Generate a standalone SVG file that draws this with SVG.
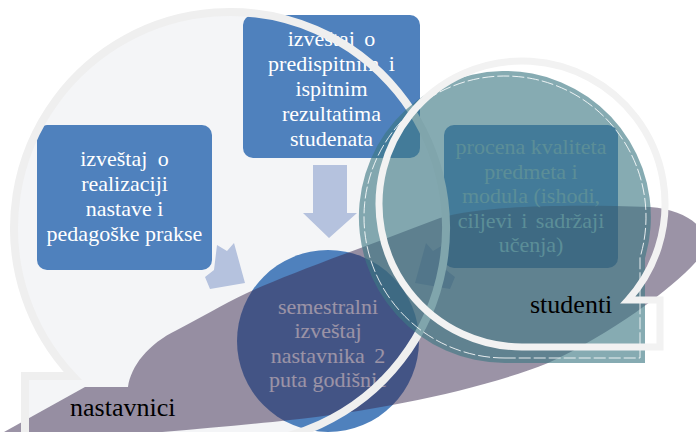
<svg xmlns="http://www.w3.org/2000/svg" width="696" height="432" viewBox="0 0 696 432">
<style>
.box{fill:#4f81bd}
.arr{fill:#b5c2de}
text{font-family:'Liberation Serif','DejaVu Serif','Times New Roman',serif}
.wt{font-size:22px;fill:#ffffff;text-anchor:middle}
.tt{font-size:22px;fill:#8fb3b9;text-anchor:middle}
.lbl{font-size:26px;fill:#000000}
.ring{fill:none;stroke:#efefef;stroke-width:8}
</style>
<rect x="0" y="0" width="696" height="432" fill="#ffffff"/>
<g id="nastavnici-bubble-fill">
<path d="M230,444 A216,216 0 1 0 72.7,376 L25,376 L25,444 Z" fill="#f4f5f7"/>
</g>
<g id="box-realizacija">
<rect class="box" x="37" y="125" width="175" height="145" rx="10"/>
<text class="wt" x="124.5" y="166" word-spacing="5">izveštaj o</text>
<text class="wt" x="124.5" y="191">realizaciji</text>
<text class="wt" x="124.5" y="216">nastave i</text>
<text class="wt" x="124.5" y="241">pedagoške prakse</text>
</g>
<g id="box-ispiti">
<rect class="box" x="243" y="15" width="177" height="143" rx="10"/>
<text class="wt" x="331.5" y="46" word-spacing="4">izveštaj o</text>
<text class="wt" x="331.5" y="71" word-spacing="4">predispitnim i</text>
<text class="wt" x="331.5" y="96">ispitnim</text>
<text class="wt" x="331.5" y="121">rezultatima</text>
<text class="wt" x="331.5" y="146">studenata</text>
</g>
<g id="box-procena">
<rect class="box" x="444" y="125" width="174" height="143" rx="10"/>
</g>
<g id="connectors">
<polygon class="arr" points="313,165 347,165 347,213 357,213 329,238 303,213 313,213"/>
<polygon class="arr" points="217,245 227,251 234,243 245,283 210,289 205,277 214,270"/>
<polygon class="arr" points="443,245 433,251 426,243 415,283 450,289 455,277 446,270"/>
</g>
<g id="circle-semestralni">
<circle cx="328" cy="341" r="91" fill="#4f81bd"/>
<text class="wt" x="328" y="313.5">semestralni</text>
<text class="wt" x="328" y="338">izveštaj</text>
<text class="wt" x="328" y="362.5" word-spacing="4">nastavnika 2</text>
<text class="wt" x="328" y="387">puta godišnje</text>
</g>
<g id="band-purple">
<path d="M-5,437 L85,387 L128,387 C131,366 148,344 177,330 C200,318 220,306 247,293 C290,273 370,245 440,218 C480,206 560,204 650,207 C690,210 712,232 705,250 C690,275 620,330 548,363 C480,390 380,410 290,420 C200,430 60,440 -5,445 Z" fill="#37274d" fill-opacity="0.5"/>
</g>
<g id="nastavnici-bubble-ring">
<path class="ring" d="M230,444 A216,216 0 1 0 72.7,376 L25,376 L25,444"/>
</g>
<g id="procena-text">
<text class="tt" x="531" y="154">procena kvaliteta</text>
<text class="tt" x="531" y="178.5">predmeta i</text>
<text class="tt" x="531" y="203">modula (ishodi,</text>
<text class="tt" x="531" y="227.5" word-spacing="3">ciljevi i sadržaji</text>
<text class="tt" x="531" y="252">učenja)</text>
</g>
<g id="teal-circle">
<path d="M505,363 A146,146 0 1 1 645,258 L645,363 Z" fill="#3c7882" fill-opacity="0.62"/>
<path d="M505,358 A141,141 0 1 1 640,257.7 L640,358 Z" fill="none" stroke="#ffffff" stroke-width="1" stroke-dasharray="12 3" stroke-opacity="0.85"/>
</g>
<g id="studenti-bubble">
<path d="M522,347 A143,143 0 1 1 628,300 L660,300 L660,347 Z" fill="none" stroke="#f2f2f2" stroke-width="7"/>
</g>
<g id="labels">
<text class="lbl" x="70" y="416">nastavnici</text>
<text class="lbl" x="530" y="313">studenti</text>
</g>
</svg>
